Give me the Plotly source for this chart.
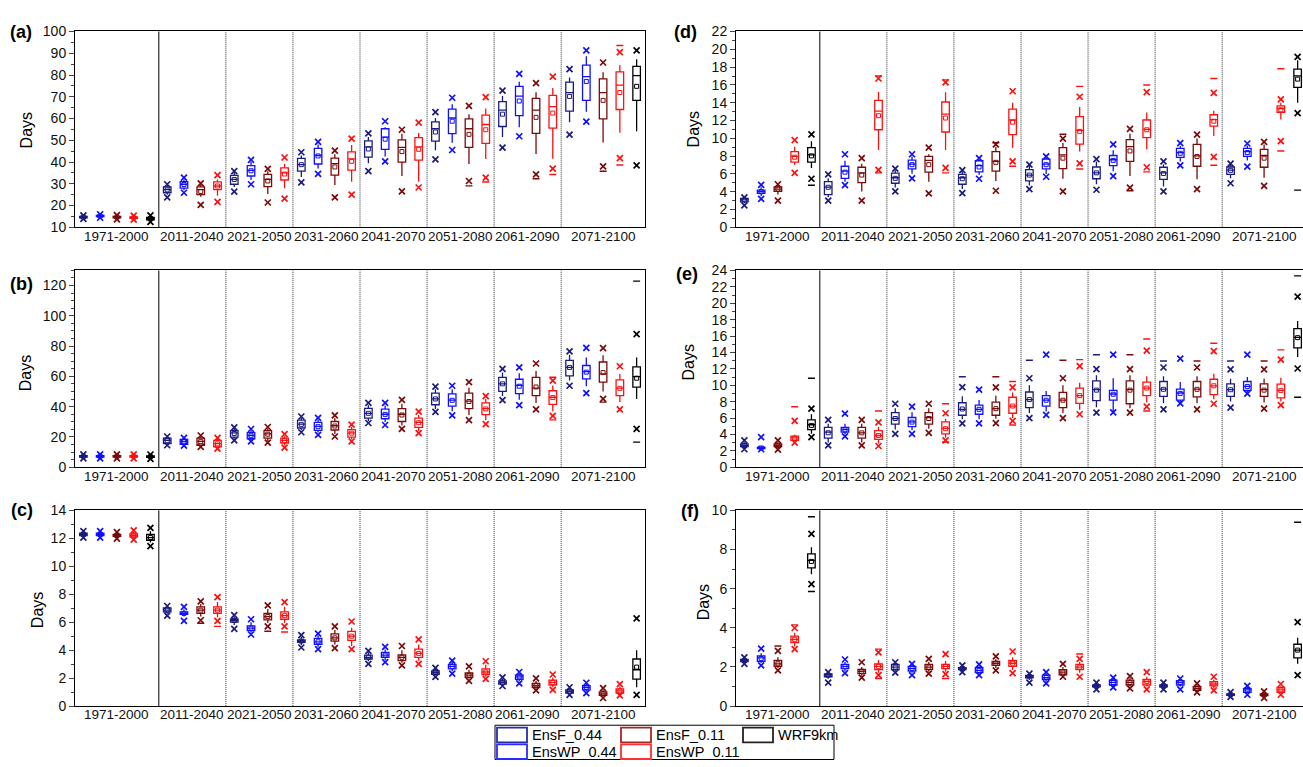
import plotly.graph_objects as go

W, H = 1303, 767

PERIODS = ["1971-2000", "2011-2040", "2021-2050", "2031-2060",
           "2041-2070", "2051-2080", "2061-2090", "2071-2100"]
SERIES = ["EnsF_0.44", "EnsWP_0.44", "EnsF_0.11", "EnsWP_0.11", "WRF9km"]
WRF_PERIODS = [0, 7]

# rows per period: (p_lo, whisker_lo, q1, median, q3, whisker_hi, p_hi, mean)
# ---------------- panel (a) ----------------
A_ENSF044 = [(13.9, 14.1, 14.4, 14.7, 15.0, 15.3, 15.5, 14.7),
             (23.8, 25.0, 25.9, 27.3, 28.6, 29.4, 29.8, 27.2),
             (26.4, 28.5, 29.8, 32.0, 33.9, 35.4, 35.8, 32.0),
             (30.7, 33.1, 35.8, 38.8, 41.65, 43.0, 44.5, 38.8),
             (35.8, 39.5, 42.25, 47.0, 49.75, 51.5, 53.2, 46.0),
             (41.2, 45.4, 49.6, 55.3, 58.45, 60.25, 62.95, 53.8),
             (46.6, 51.55, 56.35, 63.85, 67.75, 70.3, 72.85, 62.0),
             (52.6, 58.3, 63.4, 71.95, 76.75, 78.85, 82.75, 70.15)]
A_ENSWP044 = [(14.4, 14.6, 14.9, 15.2, 15.5, 15.8, 16.0, 15.2),
              (25.9, 27.0, 28.0, 29.8, 31.0, 32.0, 32.8, 29.7),
              (29.8, 31.8, 33.6, 36.2, 38.4, 40.0, 41.0, 36.0),
              (34.6, 37.0, 39.1, 43.0, 46.3, 48.1, 49.3, 42.8),
              (40.3, 42.5, 45.85, 51.5, 55.3, 56.0, 58.75, 50.5),
              (45.55, 48.85, 53.05, 60.25, 64.3, 66.55, 69.55, 58.75),
              (51.85, 56.0, 61.3, 70.3, 74.8, 76.9, 80.5, 68.05),
              (58.6, 63.1, 68.35, 79.3, 84.55, 88.6, 91.3, 77.05)]
A_ENSF011 = [(13.7, 14.0, 14.3, 14.7, 15.0, 15.3, 15.6, 14.7),
             (20.3, 24.0, 25.0, 27.3, 28.6, 29.5, 30.2, 26.5),
             (21.4, 25.3, 28.75, 32.0, 34.3, 35.8, 36.9, 31.3),
             (23.8, 29.5, 34.0, 39.25, 41.8, 43.6, 45.25, 37.75),
             (26.5, 33.55, 40.0, 46.75, 50.2, 53.0, 54.85, 44.8),
             (31.3, 39.1, 46.75, 55.3, 59.8, 62.0, 65.8, 52.75),
             (34.3, 43.75, 53.2, 63.85, 69.25, 72.1, 76.3, 60.55),
             (38.05, 49.0, 59.8, 71.95, 78.25, 81.25, 85.75, 68.35)]
A_ENSWP011 = [(13.5, 13.8, 14.1, 14.5, 14.8, 15.1, 15.4, 14.4),
              (21.7, 24.5, 27.3, 29.0, 30.9, 32.0, 34.0, 29.0),
              (23.2, 28.0, 31.75, 35.0, 37.3, 39.1, 42.1, 34.5),
              (25.0, 31.0, 36.25, 41.5, 44.65, 47.8, 50.8, 40.3),
              (28.3, 31.0, 40.9, 47.0, 51.25, 53.35, 58.15, 45.85),
              (32.8, 41.35, 48.55, 57.25, 61.6, 64.6, 69.85, 54.85),
              (37.0, 41.5, 55.6, 65.5, 70.6, 74.05, 79.3, 62.5),
              (41.8, 53.5, 64.15, 75.4, 81.4, 84.55, 90.55, 71.95)]
A_WRF = [(12.5, 13.0, 13.4, 14.0, 14.6, 15.0, 15.5, 14.0),
         (38.5, 54.1, 68.35, 79.75, 83.95, 87.25, 91.3, 74.8)]
# extremes shown as dashes: (series index, period index, value)
A_EXT = [(2, 5, 29.05), (3, 5, 30.85), (2, 6, 32.35), (3, 6, 34.3),
         (2, 7, 35.8), (3, 7, 38.65), (3, 7, 93.55)]

# ---------------- panel (b) ----------------
B_ENSF044 = [(5.8, 6.3, 6.7, 7.2, 7.6, 8.0, 8.5, 7.2),
             (14.5, 15.0, 15.55, 17.7, 19.2, 19.8, 20.3, 17.5),
             (17.7, 18.8, 19.9, 22.7, 24.2, 25.5, 26.35, 22.3),
             (23.1, 24.5, 25.9, 28.5, 31.1, 32.5, 33.5, 28.3),
             (29.2, 30.5, 32.4, 35.6, 38.9, 41.0, 42.5, 35.6),
             (36.5, 38.5, 41.25, 45.1, 49.0, 51.5, 53.3, 45.1),
             (44.3, 47.0, 50.1, 55.1, 59.4, 62.5, 65.0, 55.1),
             (53.8, 57.2, 60.3, 65.9, 70.6, 74.3, 76.5, 65.9)]
B_ENSWP044 = [(5.8, 6.3, 6.7, 7.2, 7.6, 8.0, 8.5, 7.2),
              (14.25, 14.7, 15.1, 16.85, 18.4, 19.0, 19.4, 16.8),
              (17.05, 17.8, 18.8, 20.95, 22.9, 24.2, 25.25, 20.8),
              (21.4, 23.0, 24.4, 27.0, 29.6, 31.3, 32.6, 26.8),
              (27.9, 29.8, 32.0, 35.0, 38.4, 40.8, 42.5, 34.9),
              (34.3, 37.0, 40.4, 44.3, 48.4, 51.5, 53.8, 44.2),
              (41.0, 44.5, 48.6, 54.0, 58.1, 62.0, 65.9, 53.5),
              (49.0, 53.5, 58.3, 63.1, 67.2, 72.5, 78.8, 62.8)]
B_ENSF011 = [(5.8, 6.3, 6.7, 7.2, 7.6, 8.0, 8.5, 7.2),
             (13.4, 14.0, 14.5, 17.05, 19.2, 20.2, 20.95, 16.9),
             (16.2, 17.2, 19.2, 22.0, 24.2, 25.7, 26.55, 21.8),
             (20.3, 22.0, 24.6, 27.4, 30.2, 32.5, 34.3, 27.2),
             (25.3, 27.5, 30.2, 35.0, 38.7, 42.0, 44.5, 34.5),
             (31.1, 34.5, 38.7, 43.6, 49.0, 52.5, 56.2, 43.4),
             (38.2, 42.5, 47.3, 52.3, 59.4, 63.5, 68.5, 53.0),
             (45.1, 50.0, 56.2, 61.6, 69.5, 74.0, 78.6, 62.5)]
B_ENSWP011 = [(5.8, 6.3, 6.7, 7.2, 7.6, 8.0, 8.5, 7.2),
              (12.3, 12.9, 13.4, 15.55, 17.7, 18.6, 19.4, 15.4),
              (12.95, 14.3, 16.0, 17.7, 19.2, 20.5, 21.8, 17.6),
              (17.05, 18.3, 19.9, 22.7, 24.8, 26.5, 28.1, 22.5),
              (22.5, 24.0, 26.35, 29.6, 32.4, 34.5, 36.7, 29.4),
              (28.5, 31.0, 34.8, 38.7, 42.5, 45.0, 46.9, 38.5),
              (33.9, 37.0, 41.5, 46.2, 50.5, 54.0, 57.2, 46.0),
              (38.2, 43.0, 47.3, 52.3, 57.7, 61.5, 66.7, 52.1)]
B_WRF = [(5.5, 6.1, 6.6, 7.0, 7.4, 7.8, 8.4, 7.0),
         (25.3, 45.1, 52.9, 59.8, 66.3, 72.4, 87.9, 58.8)]
B_EXT = [(2, 7, 43.0), (3, 6, 31.3), (3, 6, 59.4), (4, 7, 16.6), (4, 7, 122.9)]

# ---------------- panel (c) ----------------
C_ENSF044 = [(12.05, 12.12, 12.2, 12.28, 12.36, 12.44, 12.51, 12.28),
             (6.47, 6.6, 6.74, 6.86, 7.02, 7.1, 7.16, 6.86),
             (5.53, 5.8, 6.0, 6.12, 6.23, 6.4, 6.51, 6.12),
             (4.19, 4.35, 4.56, 4.65, 4.74, 4.95, 5.07, 4.65),
             (3.02, 3.2, 3.37, 3.49, 3.65, 3.85, 3.95, 3.49),
             (2.09, 2.2, 2.28, 2.4, 2.51, 2.65, 2.74, 2.4),
             (1.44, 1.5, 1.58, 1.7, 1.81, 1.95, 2.05, 1.7),
             (0.81, 0.87, 0.93, 1.05, 1.16, 1.28, 1.35, 1.05)]
C_ENSWP044 = [(12.05, 12.12, 12.2, 12.28, 12.36, 12.44, 12.51, 12.28),
              (6.09, 6.4, 6.56, 6.63, 6.74, 6.9, 7.09, 6.63),
              (5.12, 5.25, 5.4, 5.58, 5.74, 6.0, 6.21, 5.58),
              (4.07, 4.25, 4.42, 4.6, 4.84, 5.05, 5.19, 4.6),
              (3.14, 3.3, 3.49, 3.65, 3.84, 4.05, 4.23, 3.65),
              (2.33, 2.5, 2.67, 2.84, 2.98, 3.15, 3.26, 2.84),
              (1.63, 1.78, 1.91, 2.09, 2.21, 2.35, 2.44, 2.09),
              (0.93, 1.05, 1.16, 1.33, 1.47, 1.58, 1.67, 1.33)]
C_ENSF011 = [(11.98, 12.06, 12.14, 12.21, 12.28, 12.36, 12.44, 12.21),
             (6.14, 6.4, 6.63, 6.86, 7.09, 7.3, 7.49, 6.86),
             (5.7, 5.95, 6.16, 6.4, 6.63, 6.95, 7.21, 6.4),
             (4.14, 4.4, 4.65, 4.88, 5.16, 5.45, 5.7, 4.88),
             (2.91, 3.1, 3.26, 3.49, 3.67, 4.0, 4.3, 3.49),
             (1.81, 1.95, 2.05, 2.21, 2.37, 2.6, 2.84, 2.21),
             (1.12, 1.25, 1.35, 1.49, 1.63, 1.8, 1.98, 1.49),
             (0.58, 0.68, 0.77, 0.88, 1.02, 1.15, 1.28, 0.88)]
C_ENSWP011 = [(11.9, 12.0, 12.1, 12.21, 12.32, 12.45, 12.56, 12.21),
              (6.09, 6.35, 6.63, 6.86, 7.09, 7.45, 7.79, 6.86),
              (5.7, 5.95, 6.21, 6.47, 6.74, 7.1, 7.44, 6.47),
              (4.07, 4.3, 4.7, 5.0, 5.35, 5.6, 6.05, 5.0),
              (3.02, 3.25, 3.49, 3.77, 4.07, 4.4, 4.77, 3.77),
              (1.95, 2.1, 2.26, 2.44, 2.67, 2.95, 3.21, 2.44),
              (1.16, 1.35, 1.51, 1.7, 1.86, 2.05, 2.26, 1.7),
              (0.77, 0.85, 0.93, 1.09, 1.23, 1.4, 1.58, 1.09)]
C_WRF = [(11.44, 11.7, 11.86, 12.05, 12.28, 12.5, 12.74, 12.05),
         (0.81, 1.35, 1.93, 2.6, 3.37, 4.0, 6.28, 2.79)]
C_EXT = [(2, 1, 5.93), (3, 1, 5.7), (2, 2, 5.35), (3, 2, 5.3)]

# ---------------- panel (d) ----------------
D_ENSF044 = [(2.46, 2.7, 2.85, 3.08, 3.25, 3.3, 3.37, 3.08),
             (3.0, 3.37, 3.67, 4.51, 5.13, 5.5, 5.94, 4.5),
             (4.03, 4.47, 4.95, 5.57, 6.09, 6.42, 6.6, 5.5),
             (3.85, 4.3, 4.84, 5.57, 5.94, 6.3, 6.42, 5.46),
             (4.29, 4.7, 5.21, 5.87, 6.49, 6.9, 7.04, 5.87),
             (4.22, 4.85, 5.46, 6.12, 6.78, 7.4, 7.66, 6.12),
             (4.03, 4.6, 5.39, 6.12, 6.75, 7.1, 7.41, 6.05),
             (4.95, 5.5, 5.94, 6.42, 6.78, 7.05, 7.15, 6.4)]
D_ENSWP044 = [(3.19, 3.5, 3.81, 4.0, 4.18, 4.5, 4.77, 4.0),
              (4.73, 5.13, 5.5, 6.31, 6.86, 7.48, 8.21, 6.2),
              (5.5, 6.01, 6.56, 7.11, 7.55, 7.96, 8.21, 7.04),
              (5.46, 5.9, 6.23, 6.93, 7.48, 7.6, 7.77, 6.78),
              (5.68, 6.0, 6.56, 7.11, 7.66, 7.8, 7.96, 7.04),
              (5.76, 6.31, 6.93, 7.59, 8.07, 8.65, 9.31, 7.52),
              (6.97, 7.4, 7.85, 8.4, 8.87, 9.15, 9.46, 8.32),
              (6.82, 7.5, 7.96, 8.51, 8.87, 9.2, 9.42, 8.4)]
D_ENSF011 = [(3.0, 3.7, 4.03, 4.29, 4.55, 4.75, 4.84, 4.29),
             (3.0, 4.03, 5.02, 6.12, 6.75, 7.15, 7.77, 5.87),
             (3.81, 5.13, 6.2, 7.52, 7.96, 8.21, 8.95, 7.04),
             (4.11, 5.21, 6.31, 7.41, 8.5, 9.06, 9.31, 7.3),
             (4.03, 5.46, 6.6, 8.14, 8.95, 9.46, 9.97, 7.77),
             (4.47, 5.76, 7.41, 9.06, 9.86, 10.52, 11.07, 8.58),
             (4.29, 5.39, 6.86, 8.03, 9.31, 9.97, 10.41, 7.96),
             (4.66, 5.57, 6.75, 8.07, 8.76, 9.31, 9.61, 7.77)]
D_ENSWP011 = [(6.12, 7.04, 7.33, 7.96, 8.5, 9.06, 9.79, 7.88),
              (6.45, 8.69, 10.96, 13.05, 14.26, 15.2, 16.72, 12.54),
              (6.67, 8.69, 10.71, 12.72, 14.08, 15.18, 16.28, 12.28),
              (7.41, 8.95, 10.41, 12.06, 13.27, 14.0, 15.29, 11.81),
              (7.19, 8.51, 9.35, 10.89, 12.43, 13.53, 14.67, 10.78),
              (6.75, 8.76, 10.08, 11.0, 12.06, 12.91, 15.18, 10.96),
              (7.92, 10.27, 11.37, 12.1, 12.65, 13.09, 15.11, 11.92),
              (9.68, 12.1, 12.91, 13.35, 13.64, 14.0, 14.37, 13.2)]
D_WRF = [(5.46, 6.67, 7.33, 8.14, 8.95, 9.68, 10.45, 8.03),
         (12.83, 14.0, 15.73, 17.01, 17.78, 18.77, 19.14, 16.65)]
D_EXT = [(3, 1, 6.12), (3, 1, 17.0), (3, 2, 6.12), (3, 2, 16.57),
         (2, 3, 9.5), (3, 3, 6.86), (2, 4, 10.45), (3, 4, 6.56), (3, 4, 15.84),
         (2, 5, 4.11), (3, 5, 6.23), (3, 5, 15.99), (3, 6, 6.97), (3, 6, 16.72),
         (3, 7, 8.58), (3, 7, 17.82), (4, 0, 4.73), (4, 7, 4.18)]

# ---------------- panel (e) ----------------
E_ENSF044 = [(2.19, 2.35, 2.5, 2.67, 2.85, 3.05, 3.27, 2.67),
             (2.67, 3.0, 3.55, 4.27, 4.86, 5.3, 5.78, 4.2),
             (4.07, 4.6, 5.26, 5.94, 6.66, 7.2, 7.74, 5.94),
             (5.34, 5.86, 6.34, 7.06, 7.86, 8.65, 9.77, 7.1),
             (5.98, 6.6, 7.26, 8.25, 9.17, 10.0, 10.85, 8.25),
             (6.66, 7.3, 8.13, 9.45, 10.53, 11.2, 11.96, 9.4),
             (7.06, 7.8, 8.65, 9.53, 10.45, 11.1, 12.16, 9.5),
             (7.26, 8.0, 8.65, 9.45, 10.17, 10.8, 11.92, 9.45)]
E_ENSWP044 = [(2.19, 2.22, 2.28, 2.35, 2.42, 2.6, 3.67, 2.35),
              (3.75, 4.0, 4.27, 4.59, 4.86, 5.3, 6.54, 4.55),
              (4.07, 4.5, 4.94, 5.54, 6.06, 6.7, 7.38, 5.5),
              (5.34, 5.86, 6.46, 7.06, 7.58, 8.2, 9.45, 7.06),
              (6.38, 6.8, 7.46, 8.17, 8.73, 9.3, 13.72, 8.17),
              (6.7, 6.86, 8.17, 8.93, 9.37, 10.85, 13.72, 8.9),
              (7.78, 7.9, 8.17, 9.05, 9.53, 10.4, 13.24, 9.0),
              (8.97, 9.1, 9.37, 9.85, 10.45, 11.0, 13.72, 9.85)]
E_ENSF011 = [(2.15, 2.35, 2.5, 2.67, 2.85, 3.05, 3.27, 2.67),
             (2.67, 3.0, 3.55, 4.19, 4.86, 5.3, 5.78, 4.19),
             (4.19, 4.7, 5.26, 6.06, 6.66, 7.2, 7.74, 5.94),
             (5.38, 5.9, 6.34, 7.14, 7.93, 8.7, 9.73, 7.14),
             (5.98, 6.6, 7.26, 8.17, 9.13, 10.0, 10.85, 8.17),
             (6.66, 7.2, 7.74, 9.45, 10.53, 11.2, 11.96, 9.4),
             (7.06, 7.8, 8.57, 9.53, 10.45, 11.1, 12.16, 9.5),
             (7.14, 7.9, 8.65, 9.45, 10.17, 10.8, 11.92, 9.4)]
E_ENSWP011 = [(2.99, 3.15, 3.27, 3.59, 3.79, 3.95, 5.66, 3.55),
              (2.59, 2.9, 3.39, 3.87, 4.47, 4.9, 5.46, 3.87),
              (3.27, 3.6, 4.07, 4.74, 5.54, 5.9, 6.58, 4.7),
              (5.66, 6.0, 6.58, 7.46, 8.53, 9.1, 9.73, 7.46),
              (6.46, 7.0, 7.78, 8.73, 9.65, 10.3, 12.32, 8.73),
              (7.38, 7.9, 8.73, 9.65, 10.37, 11.1, 14.23, 9.65),
              (7.74, 8.3, 8.85, 9.93, 10.73, 11.4, 14.15, 9.93),
              (7.58, 8.0, 8.45, 9.37, 10.13, 10.9, 13.12, 9.37)]
E_WRF = [(3.67, 4.07, 4.59, 5.18, 5.78, 6.46, 7.14, 5.1),
         (12.04, 13.44, 14.55, 15.83, 16.9, 17.82, 20.81, 15.8)]
E_EXT = [(0, 3, 11.04), (2, 3, 11.04), (0, 4, 13.04), (2, 4, 13.04),
         (0, 5, 13.72), (2, 5, 13.72), (0, 6, 12.96), (2, 6, 12.96),
         (0, 7, 12.96), (2, 7, 12.96), (3, 0, 7.38), (3, 1, 6.86),
         (3, 2, 3.07), (3, 2, 7.74), (3, 3, 5.14), (3, 3, 10.45), (3, 4, 13.12),
         (3, 5, 6.86), (3, 5, 15.63), (3, 6, 15.11), (3, 7, 14.31),
         (4, 0, 10.85), (4, 7, 8.53), (4, 7, 23.33)]

# ---------------- panel (f) ----------------
F_ENSF044 = [(2.16, 2.22, 2.27, 2.33, 2.39, 2.44, 2.49, 2.33),
             (1.2, 1.4, 1.5, 1.58, 1.65, 1.7, 1.74, 1.58),
             (1.71, 1.8, 1.86, 1.99, 2.13, 2.2, 2.24, 1.99),
             (1.74, 1.8, 1.86, 1.91, 1.97, 2.03, 2.08, 1.91),
             (1.2, 1.35, 1.44, 1.5, 1.57, 1.62, 1.66, 1.5),
             (0.86, 0.93, 0.98, 1.03, 1.09, 1.15, 1.2, 1.03),
             (0.86, 0.93, 0.98, 1.03, 1.09, 1.15, 1.2, 1.03),
             (0.47, 0.51, 0.55, 0.58, 0.62, 0.67, 0.71, 0.58)]
F_ENSWP044 = [(2.08, 2.2, 2.29, 2.46, 2.57, 2.7, 2.94, 2.43),
              (1.69, 1.8, 1.91, 2.03, 2.13, 2.25, 2.38, 2.03),
              (1.58, 1.7, 1.79, 1.91, 2.03, 2.1, 2.16, 1.91),
              (1.58, 1.65, 1.71, 1.83, 1.96, 2.05, 2.13, 1.83),
              (1.16, 1.25, 1.36, 1.46, 1.58, 1.66, 1.74, 1.46),
              (0.96, 1.0, 1.08, 1.21, 1.33, 1.4, 1.46, 1.21),
              (0.86, 1.0, 1.08, 1.2, 1.3, 1.36, 1.41, 1.2),
              (0.58, 0.64, 0.7, 0.83, 0.91, 0.97, 1.03, 0.83)]
F_ENSF011 = [(1.83, 1.95, 2.03, 2.16, 2.33, 2.5, 2.82, 2.16),
             (1.46, 1.55, 1.66, 1.78, 1.88, 2.0, 2.24, 1.78),
             (1.66, 1.75, 1.86, 1.99, 2.13, 2.25, 2.41, 1.99),
             (1.83, 1.95, 2.08, 2.19, 2.29, 2.4, 2.54, 2.19),
             (1.5, 1.53, 1.6, 1.74, 1.86, 2.0, 2.16, 1.74),
             (0.91, 1.0, 1.08, 1.21, 1.33, 1.42, 1.53, 1.21),
             (0.7, 0.75, 0.8, 0.9, 1.0, 1.08, 1.16, 0.9),
             (0.42, 0.5, 0.54, 0.58, 0.63, 0.7, 0.75, 0.58)]
F_ENSWP011 = [(2.91, 3.05, 3.24, 3.41, 3.57, 3.75, 3.99, 3.41),
              (1.58, 1.7, 1.86, 2.03, 2.16, 2.35, 2.74, 2.03),
              (1.63, 1.75, 1.91, 2.03, 2.13, 2.3, 2.66, 2.03),
              (1.69, 1.85, 2.03, 2.19, 2.33, 2.5, 2.79, 2.19),
              (1.5, 1.7, 1.86, 1.99, 2.13, 2.25, 2.41, 1.99),
              (0.86, 1.0, 1.08, 1.25, 1.36, 1.5, 1.74, 1.25),
              (0.8, 0.9, 1.03, 1.13, 1.25, 1.35, 1.5, 1.13),
              (0.58, 0.64, 0.7, 0.83, 0.95, 1.02, 1.13, 0.83)]
F_WRF = [(6.23, 6.73, 7.06, 7.44, 7.77, 8.11, 8.8, 7.39),
         (1.58, 2.16, 2.46, 2.86, 3.16, 3.49, 4.29, 2.86)]
F_EXT = [(2, 0, 3.07), (3, 0, 4.15), (3, 1, 1.41), (3, 1, 2.91), (3, 2, 1.41),
         (3, 4, 2.66), (4, 0, 5.85), (4, 0, 9.67), (4, 7, 9.39)]

COLORS = ["#1c1c80", "#1010ff", "#7a0a0a", "#ff1010", "#000000"]
LEGEND_COLORS = ["#2a2ab0", "#2a2aff", "#a02a2a", "#ff3030", "#222222"]
FONT = "Liberation Sans, Arial, sans-serif"

# panel letter, axis number, series rows, extremes, y range, dtick, minor dtick, right tick step
PANELS = [
    ("a", 1, [A_ENSF044, A_ENSWP044, A_ENSF011, A_ENSWP011, A_WRF], A_EXT, (10, 100), 10, 5, 5),
    ("b", 2, [B_ENSF044, B_ENSWP044, B_ENSF011, B_ENSWP011, B_WRF], B_EXT, (0, 130), 20, 5, 10),
    ("c", 3, [C_ENSF044, C_ENSWP044, C_ENSF011, C_ENSWP011, C_WRF], C_EXT, (0, 14), 2, 1, 2),
    ("d", 4, [D_ENSF044, D_ENSWP044, D_ENSF011, D_ENSWP011, D_WRF], D_EXT, (0, 22), 2, 1, None),
    ("e", 5, [E_ENSF044, E_ENSWP044, E_ENSF011, E_ENSWP011, E_WRF], E_EXT, (0, 24), 2, 1, None),
    ("f", 6, [F_ENSF044, F_ENSWP044, F_ENSF011, F_ENSWP011, F_WRF], F_EXT, (0, 10), 2, 1, None),
]

ROW_PX = [(24, 224), (268, 469), (513, 713)]
LEFT_PX = (75, 645)
RIGHT_PX = (736, 1303)
SLOT_PX = (LEFT_PX[1] - LEFT_PX[0]) / 34.0


def slot(period, s):
    base = 0 if period == 0 else (29 if period == 7 else 5 + 4 * (period - 1))
    return base + s


def px_x(v):
    return v / W


def px_y(v):
    return 1 - v / H


fig = go.Figure()
shapes = []
annotations = []

panel_labels = {"a": (8, 25), "b": (8, 282), "c": (9, 513),
                "d": (672, 25), "e": (674, 272), "f": (679, 514)}
days_pos = {"a": (26, 125), "b": (25, 373), "c": (37, 615),
            "d": (693, 124), "e": (688, 362), "f": (703, 607)}
group_centers = [2, 6.5, 10.5, 14.5, 18.5, 22.5, 26.5, 31]

for letter, n, series_rows, ext, yr, dtick, mdtick, rstep in PANELS:
    sfx = "" if n == 1 else str(n)
    xa, ya = "x" + sfx, "y" + sfx
    right = letter in "def"
    row = "def".index(letter) if right else "abc".index(letter)
    top, bot = ROW_PX[row]
    xl, xr = RIGHT_PX if right else LEFT_PX
    xmax = -0.5 + (xr - xl) / SLOT_PX

    for s, rows in enumerate(series_rows):
        periods = WRF_PERIODS if s == 4 else list(range(8))
        xs = [slot(p, s) for p in periods]
        col = COLORS[s]
        fig.add_trace(go.Box(
            x=xs, q1=[r[2] for r in rows], median=[r[3] for r in rows],
            q3=[r[4] for r in rows], lowerfence=[r[1] for r in rows],
            upperfence=[r[5] for r in rows], width=0.45, whiskerwidth=0,
            line=dict(color=col, width=1.3), fillcolor="rgba(255,255,255,0)",
            boxpoints=False, showlegend=False, xaxis=xa, yaxis=ya, name=SERIES[s]))
        fig.add_trace(go.Scatter(
            x=xs + xs, y=[r[0] for r in rows] + [r[6] for r in rows], mode="markers",
            marker=dict(symbol="x-thin-open", size=6, color=col,
                        line=dict(color=col, width=1.7)),
            showlegend=False, xaxis=xa, yaxis=ya, hoverinfo="skip"))
        fig.add_trace(go.Scatter(
            x=xs, y=[r[7] for r in rows], mode="markers",
            marker=dict(symbol="square-open", size=4, color=col,
                        line=dict(color=col, width=1)),
            showlegend=False, xaxis=xa, yaxis=ya, hoverinfo="skip"))
        ex = [e for e in ext if e[0] == s]
        if ex:
            fig.add_trace(go.Scatter(
                x=[slot(e[1], s) for e in ex], y=[e[2] for e in ex], mode="markers",
                marker=dict(symbol="line-ew-open", size=5, color=col,
                            line=dict(color=col, width=1.4)),
                showlegend=False, xaxis=xa, yaxis=ya, hoverinfo="skip"))

    fig.layout["xaxis" + sfx] = dict(
        domain=[px_x(xl), px_x(xr)], range=[-0.5, xmax], anchor=ya,
        tickmode="array", tickvals=group_centers, ticks="", showticklabels=False,
        showline=True, mirror=True, linecolor="black", linewidth=1,
        showgrid=False, zeroline=False)
    fig.layout["yaxis" + sfx] = dict(
        domain=[px_y(bot), px_y(top)], range=list(yr), anchor=xa,
        dtick=dtick, tick0=0, ticks="outside", ticklen=5, tickwidth=1,
        minor=dict(dtick=mdtick, ticks="outside", ticklen=3, tickwidth=1),
        showline=True, mirror=not right, linecolor="black", linewidth=1,
        showgrid=False, zeroline=False, tickfont=dict(size=14, color="#111"))
    if rstep:
        fig.layout[f"yaxis{n + 6}"] = dict(
            overlaying=ya, anchor=xa, side="right", range=list(yr), dtick=rstep,
            tick0=0, ticks="inside", ticklen=5, showticklabels=False,
            showgrid=False, zeroline=False, showline=False)

    # period names under each group
    for gc, label in zip(group_centers, PERIODS):
        annotations.append(dict(text=label, x=gc, xref=xa, y=px_y(bot + 9), yref="paper",
                                xanchor="center", yanchor="middle", showarrow=False,
                                font=dict(size=13.5, family=FONT, color="#111")))

    for i, sx in enumerate([4.5, 8.5, 12.5, 16.5, 20.5, 24.5, 28.5]):
        shapes.append(dict(type="line", xref=xa, yref=f"{ya} domain", x0=sx, x1=sx,
                           y0=0, y1=1, line=dict(color="black" if i == 0 else "#333",
                                                  width=1, dash="solid" if i == 0 else "1px,1px")))

    lx, ly = panel_labels[letter]
    annotations.append(dict(text=f"<b>({letter})</b>", x=px_x(lx), y=px_y(ly),
                            xref="paper", yref="paper", xanchor="left", yanchor="middle",
                            showarrow=False, font=dict(size=18, family=FONT, color="black")))
    dx, dy = days_pos[letter]
    annotations.append(dict(text="Days", x=px_x(dx), y=px_y(dy), xref="paper",
                            yref="paper", xanchor="center", yanchor="middle",
                            textangle=-90, showarrow=False,
                            font=dict(size=16, family=FONT, color="black")))

# legend block
shapes.append(dict(type="rect", xref="paper", yref="paper", x0=px_x(495), x1=px_x(834),
                   y0=px_y(767.5), y1=px_y(732.5), line=dict(color="black", width=1)))
legend_items = [(0, 497, 735), (1, 497, 752), (2, 621, 735), (3, 621, 752), (4, 743, 735)]
for s, ix, iy in legend_items:
    shapes.append(dict(type="rect", xref="paper", yref="paper",
                       x0=px_x(ix), x1=px_x(ix + 30), y0=px_y(iy + 15), y1=px_y(iy),
                       line=dict(color=LEGEND_COLORS[s], width=1.8), fillcolor="white"))
    annotations.append(dict(text=SERIES[s], x=px_x(ix + 33), y=px_y(iy + 7.5),
                            xref="paper", yref="paper", xanchor="left", yanchor="middle",
                            showarrow=False, font=dict(size=14.5, family=FONT, color="black")))

fig.update_layout(
    width=W, height=H, margin=dict(l=0, r=0, t=0, b=0), autosize=False,
    paper_bgcolor="white", plot_bgcolor="white", boxmode="overlay",
    font=dict(family=FONT, color="black"), shapes=shapes, annotations=annotations,
    showlegend=False)

fig.write_html("out.html",
               post_script="document.body.style.margin='0';document.body.style.padding='0';")
